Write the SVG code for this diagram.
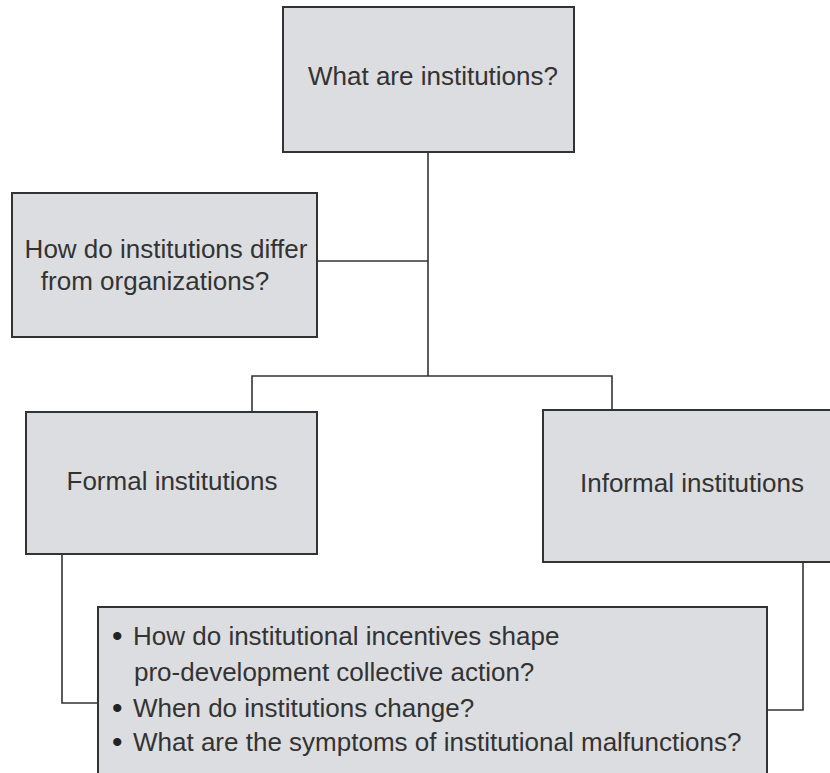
<svg xmlns="http://www.w3.org/2000/svg" width="830" height="773" viewBox="0 0 830 773">
  <style>
    .box { fill: #dcdde0; stroke: #333333; stroke-width: 2; }
    .lbl { font-family: "Liberation Sans", Arial, sans-serif; font-size: 26px; fill: #333333; }
    .mid { text-anchor: middle; }
    .dot { font-size: 30px; fill: #222222; }
    .wire { fill: none; stroke: #333333; stroke-width: 1.6; }
  </style>
  <rect width="830" height="773" fill="#ffffff"/>

  <!-- connectors -->
  <g id="connectors" class="wire">
    <path d="M428,152 V376"/>
    <path d="M317,261 H428"/>
    <path d="M252,412 V376 H612 V410"/>
    <path d="M62,554 V703 H98"/>
    <path d="M803,562 V710 H767"/>
  </g>

  <g id="what-are-institutions">
    <rect class="box" x="283" y="7" width="291" height="145"/>
    <text class="lbl mid" x="433" y="85">What are institutions?</text>
  </g>

  <g id="institutions-vs-organizations">
    <rect class="box" x="12" y="193" width="305" height="144"/>
    <text class="lbl mid" x="166" y="258">How do institutions differ</text>
    <text class="lbl mid" x="155" y="290">from organizations?</text>
  </g>

  <g id="formal-institutions">
    <rect class="box" x="26" y="412" width="291" height="142"/>
    <text class="lbl mid" x="172" y="490">Formal institutions</text>
  </g>

  <g id="informal-institutions">
    <rect class="box" x="543" y="410" width="300" height="152"/>
    <text class="lbl mid" x="692" y="492">Informal institutions</text>
  </g>

  <g id="questions">
    <rect class="box" x="98" y="607" width="669" height="180"/>
    <text class="lbl" y="645"><tspan class="dot" x="112" dy="1">•</tspan><tspan x="133" dy="-1">How do institutional incentives shape</tspan></text>
    <text class="lbl" x="134" y="681">pro-development collective action?</text>
    <text class="lbl" y="717"><tspan class="dot" x="112" dy="1">•</tspan><tspan x="133" dy="-1">When do institutions change?</tspan></text>
    <text class="lbl" y="751"><tspan class="dot" x="112" dy="1">•</tspan><tspan x="133" dy="-1">What are the symptoms of institutional malfunctions?</tspan></text>
  </g>
</svg>
